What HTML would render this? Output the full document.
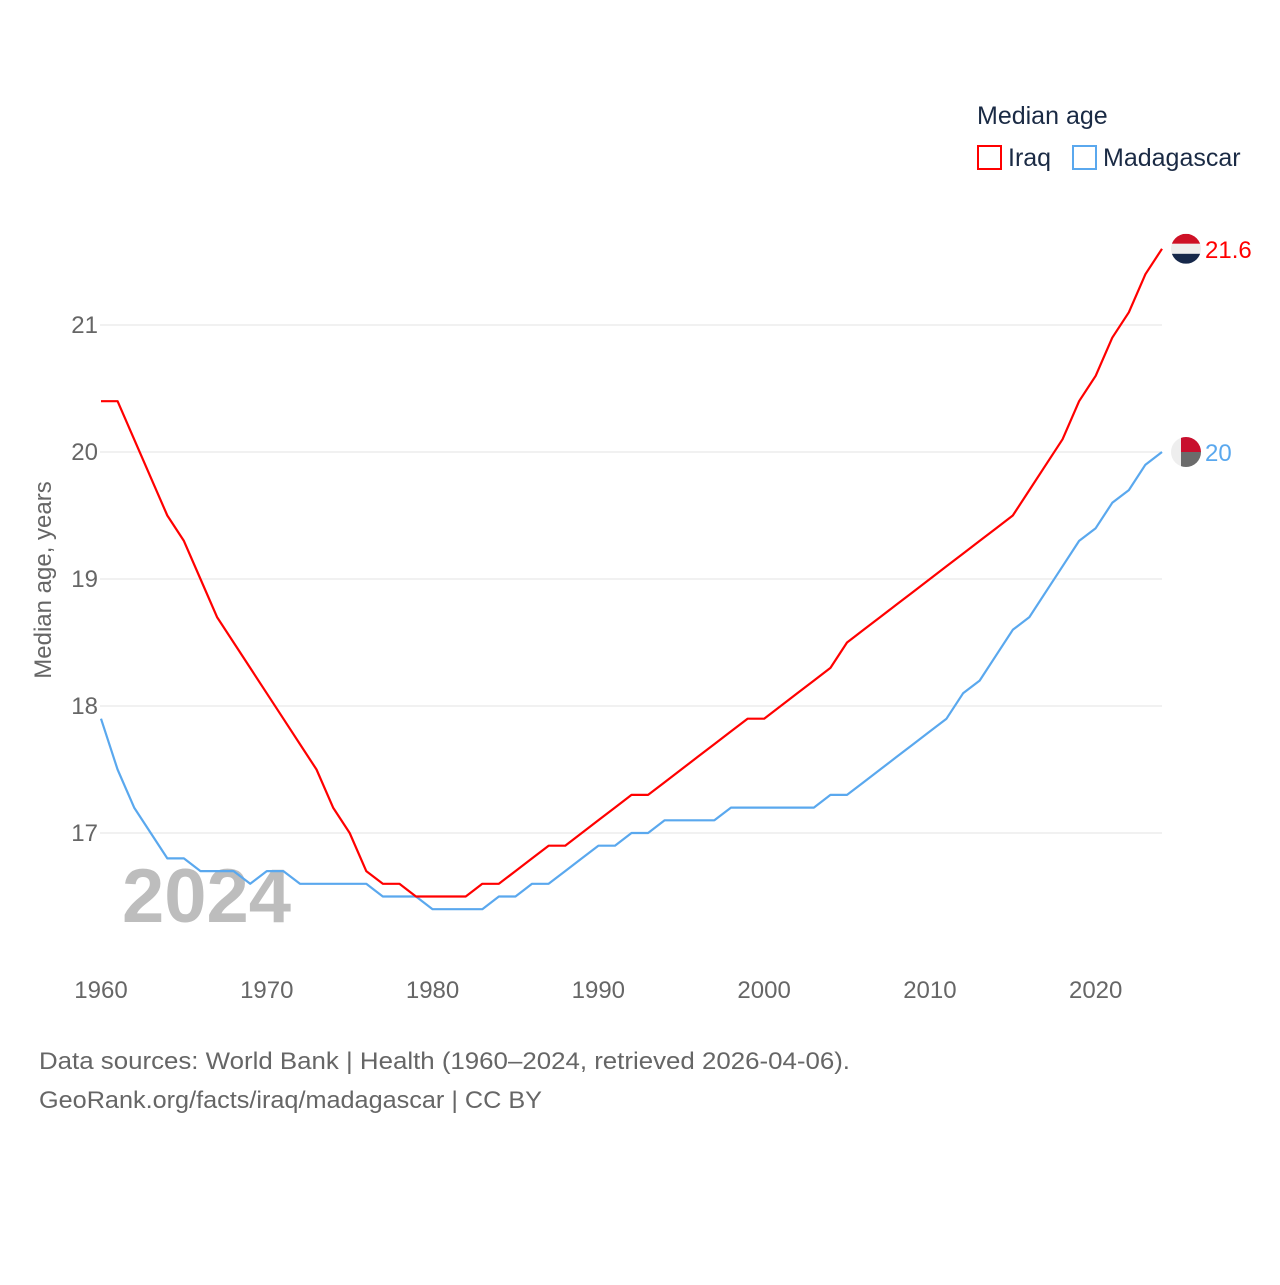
<!DOCTYPE html>
<html><head><meta charset="utf-8">
<style>
body{margin:0;background:#fff;font-family:"Liberation Sans",sans-serif;}
svg text{font-family:"Liberation Sans",sans-serif;}
</style></head>
<body>
<svg id="chart" width="1280" height="1280" xmlns="http://www.w3.org/2000/svg">
<rect width="1280" height="1280" fill="#fff"/>
<g id="grid"></g>
<g id="yticks"></g>
<g id="xticks"></g>
<text x="122" y="922" font-size="76" font-weight="bold" fill="#bdbdbd">2024</text>
<g id="series"></g>
<text transform="translate(51,580) rotate(-90)" text-anchor="middle" font-size="24" fill="#666">Median age, years</text>
<text x="977" y="124" font-size="25" fill="#1a2a44">Median age</text>
<g>
<rect x="978" y="146" width="23" height="23" fill="none" stroke="#ff0000" stroke-width="2"/>
<text x="1008" y="166" font-size="25" fill="#1a2a44">Iraq</text></g>
<g>
<rect x="1073" y="146" width="23" height="23" fill="none" stroke="#5aa8ee" stroke-width="2"/>
<text x="1103" y="166" font-size="25" fill="#1a2a44">Madagascar</text></g>
<text x="39" y="1069" font-size="24" fill="#666" textLength="811" lengthAdjust="spacingAndGlyphs">Data sources: World Bank | Health (1960–2024, retrieved 2026-04-06).</text>
<text x="39" y="1108" font-size="24" fill="#666" textLength="503" lengthAdjust="spacingAndGlyphs">GeoRank.org/facts/iraq/madagascar | CC BY</text>
</svg>
<script>
const years=[];for(let y=1960;y<=2024;y++)years.push(y);
const iraq=[20.4,20.4,20.1,19.8,19.5,19.3,19.0,18.7,18.5,18.3,18.1,17.9,17.7,17.5,17.2,17.0,16.7,16.6,16.6,16.5,16.5,16.5,16.5,16.6,16.6,16.7,16.8,16.9,16.9,17.0,17.1,17.2,17.3,17.3,17.4,17.5,17.6,17.7,17.8,17.9,17.9,18.0,18.1,18.2,18.3,18.5,18.6,18.7,18.8,18.9,19.0,19.1,19.2,19.3,19.4,19.5,19.7,19.9,20.1,20.4,20.6,20.9,21.1,21.4,21.6];
const madagascar=[17.9,17.5,17.2,17.0,16.8,16.8,16.7,16.7,16.7,16.6,16.7,16.7,16.6,16.6,16.6,16.6,16.6,16.5,16.5,16.5,16.4,16.4,16.4,16.4,16.5,16.5,16.6,16.6,16.7,16.8,16.9,16.9,17.0,17.0,17.1,17.1,17.1,17.1,17.2,17.2,17.2,17.2,17.2,17.2,17.3,17.3,17.4,17.5,17.6,17.7,17.8,17.9,18.1,18.2,18.4,18.6,18.7,18.9,19.1,19.3,19.4,19.6,19.7,19.9,20.0];
const yTicks=[17,18,19,20,21];
const xTicks=[1960,1970,1980,1990,2000,2010,2020];
const NS='http://www.w3.org/2000/svg';
const X=v=>101+(v-1960)*(1162-101)/64;
const Y=v=>452-(v-20)*127;
function mk(tag,attrs,parent){const e=document.createElementNS(NS,tag);for(const k in attrs)e.setAttribute(k,attrs[k]);parent.appendChild(e);return e;}
const grid=document.getElementById('grid'),yt=document.getElementById('yticks'),xt=document.getElementById('xticks'),ser=document.getElementById('series');
yTicks.forEach(t=>{
 const l=mk('line',{x1:100,x2:1162,y1:Y(t),y2:Y(t),stroke:'#e3e3e3','stroke-width':1},grid);
 
 
 const tx=mk('text',{x:98,y:Y(t)+8,'text-anchor':'end','font-size':24,fill:'#666'},yt);tx.textContent=t;
 
 
});
xTicks.forEach(t=>{
 const tx=mk('text',{x:X(t),y:998,'text-anchor':'middle','font-size':24,fill:'#666'},xt);tx.textContent=t;
 
 
});
function line(data,color,name){
 const p=mk('polyline',{points:data.map((v,i)=>X(years[i])+','+Y(v)).join(' '),fill:'none',stroke:color,'stroke-width':2.2,'stroke-linejoin':'round'},ser);
 
 
}
line(madagascar,'#5aa8ee','madagascar-line');
line(iraq,'#ff0000','iraq-line');
const li=iraq[iraq.length-1],lm=madagascar[madagascar.length-1];
const gi=mk('g',{},ser);
const cx=1186,cyi=Y(li);
mk('clipPath',{id:'ci'},gi);mk('circle',{cx:cx,cy:cyi,r:15},gi.lastChild);
const gic=mk('g',{'clip-path':'url(#ci)'},gi);
mk('rect',{x:cx-15,y:cyi-15,width:30,height:10,fill:'#ce1126'},gic);
mk('rect',{x:cx-15,y:cyi-5,width:30,height:10,fill:'#eee'},gic);
mk('rect',{x:cx-15,y:cyi+5,width:30,height:10,fill:'#16284a'},gic);
const ti=mk('text',{x:1205,y:cyi+9,'font-size':24,fill:'#ff0000'},ser);ti.textContent=li;

const gm=mk('g',{},ser);
const cym=Y(lm);
mk('clipPath',{id:'cm'},gm);mk('circle',{cx:cx,cy:cym,r:15},gm.lastChild);
const gmc=mk('g',{'clip-path':'url(#cm)'},gm);
mk('rect',{x:cx-15,y:cym-15,width:10,height:30,fill:'#eee'},gmc);
mk('rect',{x:cx-5,y:cym-15,width:20,height:15,fill:'#c8102e'},gmc);
mk('rect',{x:cx-5,y:cym,width:20,height:15,fill:'#6b6b6b'},gmc);
const tm=mk('text',{x:1205,y:cym+9,'font-size':24,fill:'#5aa8ee'},ser);tm.textContent=lm;

</script>
</body></html>
